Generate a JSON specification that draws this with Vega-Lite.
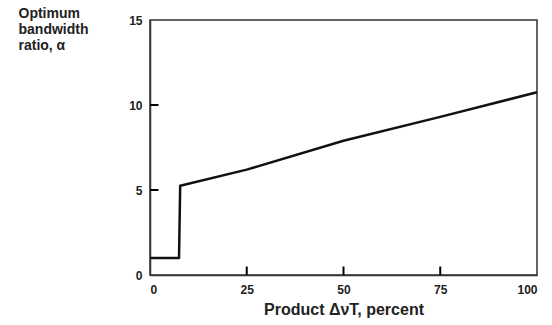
{
  "$schema": "https://vega.github.io/schema/vega-lite/v6.json",
  "width": 387,
  "height": 255,
  "autosize": {"type": "none"},
  "padding": {"left": 150, "top": 20, "right": 15, "bottom": 50},
  "background": "white",
  "config": {
    "view": {"stroke": "#333", "strokeWidth": 1.5},
    "font": "Liberation Sans"
  },
  "datasets": {
    "curve": [
      {"x": 0, "y": 1.0},
      {"x": 7.5, "y": 1.0},
      {"x": 7.8, "y": 5.25},
      {"x": 25, "y": 6.2},
      {"x": 50, "y": 7.9},
      {"x": 75, "y": 9.3},
      {"x": 100, "y": 10.75}
    ],
    "xticks": [{"v": 25, "a": 0, "b": 0.5}, {"v": 50, "a": 0, "b": 0.5}, {"v": 75, "a": 0, "b": 0.5}],
    "yticks": [{"v": 5, "a": 0, "b": 2.2}, {"v": 10, "a": 0, "b": 2.2}]
  },
  "layer": [
    {
      "data": {"name": "curve"},
      "mark": {"type": "line", "color": "#111", "strokeWidth": 2.5, "strokeJoin": "round"},
      "encoding": {
        "x": {
          "field": "x", "type": "quantitative",
          "scale": {"domain": [0, 100], "nice": false},
          "axis": {
            "values": [0, 25, 50, 75, 100],
            "grid": false, "domainColor": "#333", "domainWidth": 1.5,
            "ticks": false,
            "labelPadding": 9, "labelFontSize": 12, "labelFontWeight": "bold", "labelColor": "#222",
            "title": "Product \u0394\u03bdT, percent",
            "titleFontSize": 16, "titleFontWeight": "bold", "titleColor": "#222", "titlePadding": 6
          }
        },
        "y": {
          "field": "y", "type": "quantitative",
          "scale": {"domain": [0, 15], "nice": false},
          "axis": {
            "values": [0, 5, 10, 15],
            "grid": false, "domainColor": "#333", "domainWidth": 1.5,
            "ticks": false,
            "labelPadding": 8, "labelFontSize": 12, "labelFontWeight": "bold", "labelColor": "#222",
            "title": ["Optimum", "bandwidth", "ratio, \u03b1"],
            "titleAngle": 0, "titleAlign": "left", "titleBaseline": "top",
            "titleX": -132, "titleY": -14, "titleFontSize": 14, "titleFontWeight": "bold",
            "titleColor": "#222", "titleLineHeight": 16
          }
        }
      }
    },
    {
      "data": {"name": "xticks"},
      "mark": {"type": "rule", "color": "#000", "strokeWidth": 2},
      "encoding": {
        "x": {"field": "v", "type": "quantitative"},
        "y": {"field": "a", "type": "quantitative"},
        "y2": {"field": "b"}
      }
    },
    {
      "data": {"name": "yticks"},
      "mark": {"type": "rule", "color": "#000", "strokeWidth": 2},
      "encoding": {
        "y": {"field": "v", "type": "quantitative"},
        "x": {"field": "a", "type": "quantitative"},
        "x2": {"field": "b"}
      }
    }
  ]
}
